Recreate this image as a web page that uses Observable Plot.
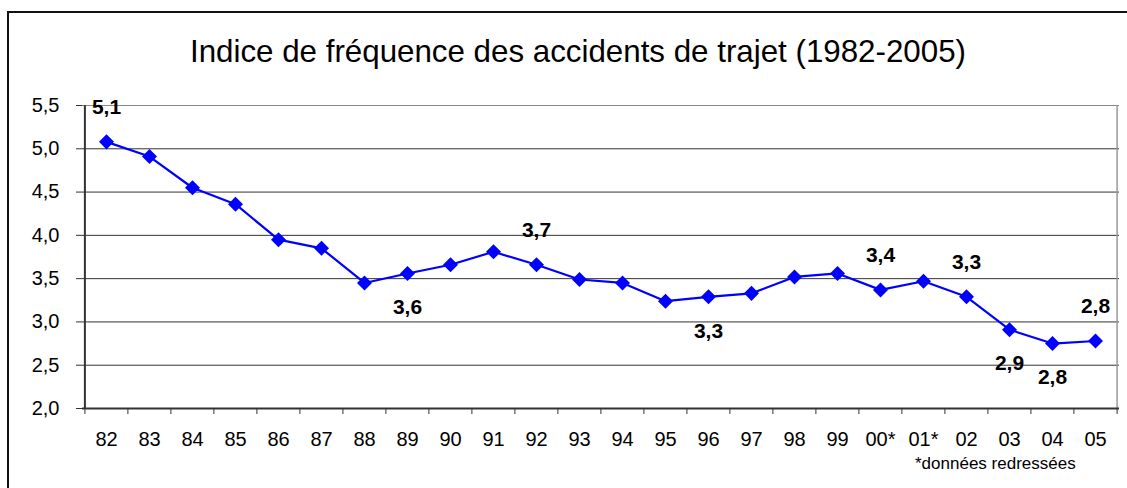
<!DOCTYPE html>
<html><head><meta charset="utf-8">
<script src="https://cdn.jsdelivr.net/npm/d3@7"></script>
<script src="https://cdn.jsdelivr.net/npm/@observablehq/plot@0.6"></script>
<style>
html,body{margin:0;padding:0;background:#fff;overflow:hidden;}
#wrap{position:relative;width:1127px;height:488px;overflow:hidden;font-family:"Liberation Sans",Arial,sans-serif;}
#border{position:absolute;left:7px;top:11px;width:1300px;height:700px;border:2px solid #111;box-sizing:border-box;}
#title{position:absolute;top:35px;left:578px;white-space:nowrap;font-size:32px;line-height:32px;color:#000;transform-origin:0 0;}
#note{position:absolute;top:455px;left:915px;white-space:nowrap;font-size:17px;line-height:17px;color:#000;}
#chart{position:absolute;left:0;top:0;}
</style></head>
<body><div id="wrap"><div id="border"></div><div id="chart"></div>
<div id="title">Indice de fréquence des accidents de trajet (1982-2005)</div>
<div id="note">*données redressées</div></div>
<script>
const years = ["82","83","84","85","86","87","88","89","90","91","92","93","94","95","96","97","98","99","00*","01*","02","03","04","05"];
const values = [5.08,4.91,4.55,4.36,3.95,3.85,3.45,3.56,3.66,3.81,3.66,3.49,3.45,3.24,3.29,3.33,3.52,3.56,3.37,3.47,3.29,2.91,2.75,2.78];
const yTicks = [2.0,2.5,3.0,3.5,4.0,4.5,5.0,5.5];
const labelYears = ["82","89","92","96","00*","02","03","04","05"];
const labelTexts = ["5,1","3,6","3,7","3,3","3,4","3,3","2,9","2,8","2,8"];
const labelSides = ["above","below","above","below","above","above","below","below","above"];

const data = years.map((y,i)=>({year:y, value:values[i]}));
const labels = labelYears.map((y,i)=>({year:y, text:labelTexts[i], side:labelSides[i], value:values[years.indexOf(y)]}));

const W=1127, H=488, mL=82, mR=8, mT=105, mB=80;
const step=(W-mL-mR)/years.length;
const fmt = d => d.toFixed(1).replace(".", ",");

const chart = Plot.plot({
  width: W, height: H, marginLeft: mL, marginRight: mR, marginTop: mT, marginBottom: mB,
  style: {fontFamily: '"Liberation Sans", Arial, sans-serif', background: "transparent", color: "#000"},
  x: {type: "point", domain: years, padding: 0.5, axis: null, label: null},
  y: {domain: [2, 5.5], axis: null, label: null},
  marks: [
    Plot.gridY(yTicks.slice(1, -1), {stroke: "#333", strokeOpacity: 1, strokeWidth: 1}),
    Plot.ruleY([yTicks[yTicks.length-1]], {stroke: "#888", strokeWidth: 1}),
    Plot.ruleX([years[years.length-1]], {dx: step/2, stroke: "#999", strokeWidth: 1.5}),
    Plot.axisY(yTicks, {tickSize: 6, tickPadding: 17, tickFormat: fmt, fontSize: 20, stroke: "#333", label: null}),
    Plot.axisX(years, {tickSize: 0, tickPadding: 23, fontSize: 20, label: null}),
    Plot.axisX(years, {tickSize: 6, tickFormat: () => "", dx: -step/2, stroke: "#333", label: null}),
    Plot.axisX([years[years.length-1]], {tickSize: 6, tickFormat: () => "", dx: step/2, stroke: "#333", label: null}),
    Plot.ruleX([years[0]], {dx: -step/2, stroke: "#333", strokeWidth: 2}),
    Plot.ruleY([yTicks[0]], {stroke: "#333", strokeWidth: 2}),
    Plot.line(data, {x: "year", y: "value", stroke: "#0000ff", strokeWidth: 2.2}),
    Plot.dot(data, {x: "year", y: "value", symbol: "square", r: 6, rotate: 45, fill: "#0000ff", stroke: "none"}),
    Plot.text(labels.filter(d => d.side === "above"), {x: "year", y: "value", text: "text", dy: -35, fontSize: 21, fontWeight: "bold", fill: "#000"}),
    Plot.text(labels.filter(d => d.side === "below"), {x: "year", y: "value", text: "text", dy: 34, fontSize: 21, fontWeight: "bold", fill: "#000"})
  ]
});
document.getElementById("chart").appendChild(chart);

// fit the title to the reference width (about 776px), centred on x=578
const t = document.getElementById("title");
const w = t.getBoundingClientRect().width;
const k = 776 / w;
t.style.transform = `scaleX(${k}) translateX(-50%)`;
</script></body></html>
